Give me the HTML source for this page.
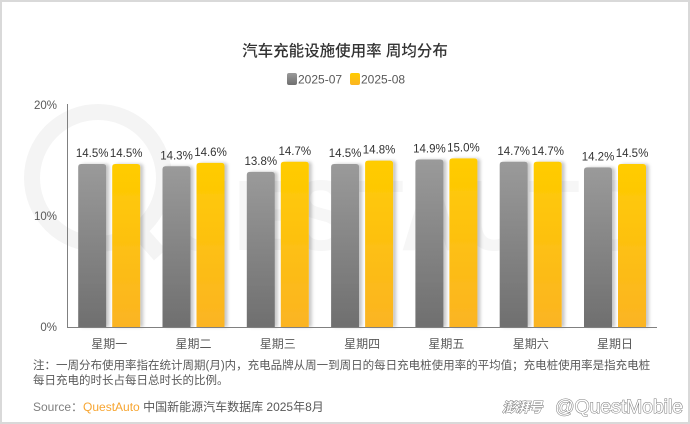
<!DOCTYPE html>
<html>
<head>
<meta charset="utf-8">
<style>
  html,body{margin:0;padding:0;background:#fff;}
  body{width:690px;height:424px;overflow:hidden;}
  svg{display:block;}
  text{font-family:"Liberation Sans","Noto Sans CJK SC",sans-serif;}
</style>
</head>
<body>
<svg width="690" height="424" viewBox="0 0 690 424" xmlns="http://www.w3.org/2000/svg">
  <defs>
    <linearGradient id="gg" x1="0" y1="0" x2="0" y2="1">
      <stop offset="0" stop-color="#9a9a9a"/>
      <stop offset="1" stop-color="#6f6f6f"/>
    </linearGradient>
    <linearGradient id="yg" x1="0" y1="0" x2="0" y2="1">
      <stop offset="0" stop-color="#ffcc00"/>
      <stop offset="1" stop-color="#fbb423"/>
    </linearGradient>
    <filter id="sh" x="-30%" y="-5%" width="160%" height="110%">
      <feDropShadow dx="3" dy="0" stdDeviation="1.5" flood-color="#000" flood-opacity="0.22"/>
    </filter>
  </defs>

  <!-- border -->
  <rect x="1" y="1" width="688" height="422" fill="#fff" stroke="#d9d9d9" stroke-width="2"/>

  <!-- faint watermark -->
  <g>
    <circle cx="98" cy="178" r="66" fill="none" stroke="#f4f4f4" stroke-width="16"/>
    <line x1="120" y1="210" x2="160" y2="255" stroke="#f4f4f4" stroke-width="16"/>
    <text x="170" y="250" font-size="100" font-weight="bold" fill="#f6f6f6" letter-spacing="4" textLength="480" lengthAdjust="spacingAndGlyphs">UESTAUTO</text>
  </g>

  <!-- title -->
  <text x="345" y="56" font-size="15.5" font-weight="500" fill="#333333" text-anchor="middle">汽车充能设施使用率 周均分布</text>

  <!-- legend -->
  <rect x="287" y="73" width="10" height="12" rx="2" fill="url(#gg)"/>
  <text x="298" y="83.5" font-size="12" fill="#595959">2025-07</text>
  <rect x="350" y="73" width="10" height="12" rx="2" fill="url(#yg)"/>
  <text x="361" y="83.5" font-size="12" fill="#595959">2025-08</text>

  <!-- y axis labels -->
  <g font-size="11.5" fill="#595959" text-anchor="end">
    <text x="57" y="109">20%</text>
    <text x="57" y="220">10%</text>
    <text x="57" y="331">0%</text>
  </g>

  <!-- bars -->
  <g id="bars"></g>

  <!-- axes -->
  <line x1="67.5" y1="104" x2="67.5" y2="327.5" stroke="#808080" stroke-width="1"/>
  <line x1="67" y1="327.5" x2="657" y2="327.5" stroke="#808080" stroke-width="1"/>

  <!-- category labels -->
  <g font-size="12" fill="#595959" text-anchor="middle">
    <text x="109.2" y="348">星期一</text>
    <text x="193.5" y="348">星期二</text>
    <text x="277.8" y="348">星期三</text>
    <text x="362.1" y="348">星期四</text>
    <text x="446.4" y="348">星期五</text>
    <text x="530.7" y="348">星期六</text>
    <text x="615" y="348">星期日</text>
  </g>

  <!-- note -->
  <g font-size="11.5" fill="#595959">
    <text x="33" y="369">注：一周分布使用率指在统计周期(月)内，充电品牌从周一到周日的每日充电桩使用率的平均值；充电桩使用率是指充电桩</text>
    <text x="33" y="384">每日充电的时长占每日总时长的比例。</text>
  </g>

  <!-- source -->
  <text x="33" y="411" font-size="12" fill="#7f7f7f">Source：<tspan fill="#f7a531">QuestAuto</tspan><tspan fill="#595959"> 中国新能源汽车数据库 2025年8月</tspan></text>

  <!-- bottom-right watermark -->
  <g fill="#ffffff" stroke="#7a7a7a" stroke-width="1" paint-order="stroke">
    <text x="502" y="412" font-size="13.5" font-style="italic" font-weight="bold">澎湃号</text>
    <text x="555" y="413" font-size="19" textLength="128" lengthAdjust="spacingAndGlyphs">@QuestMobile</text>
  </g>

  <script>
    (function(){
      var g=[14.5,14.3,13.8,14.5,14.9,14.7,14.2];
      var y=[14.5,14.6,14.7,14.8,15.0,14.7,14.5];
      var base=327, k=11.24, w=28, r=3;
      var ns="http://www.w3.org/2000/svg";
      var host=document.getElementById("bars");
      function bar(x,v,fill){
        var h=v*k, t=base-h;
        var p=document.createElementNS(ns,"path");
        p.setAttribute("d","M"+x+","+base+" L"+x+","+(t+r)+" Q"+x+","+t+" "+(x+r)+","+t+" L"+(x+w-r)+","+t+" Q"+(x+w)+","+t+" "+(x+w)+","+(t+r)+" L"+(x+w)+","+base+" Z");
        p.setAttribute("fill",fill);
        p.setAttribute("filter","url(#sh)");
        host.appendChild(p);
        var tx=document.createElementNS(ns,"text");
        tx.setAttribute("x",x+w/2);
        tx.setAttribute("y",t-7);
        tx.setAttribute("font-size","11.5");
        tx.setAttribute("fill","#333333");
        tx.setAttribute("text-anchor","middle");
        tx.textContent=v.toFixed(1)+"%";
        host.appendChild(tx);
      }
      for(var i=0;i<7;i++){
        var c=109.2+84.3*i;
        bar(c-31,g[i],"url(#gg)");
        bar(c+3,y[i],"url(#yg)");
      }
    })();
  </script>
</svg>
</body>
</html>
